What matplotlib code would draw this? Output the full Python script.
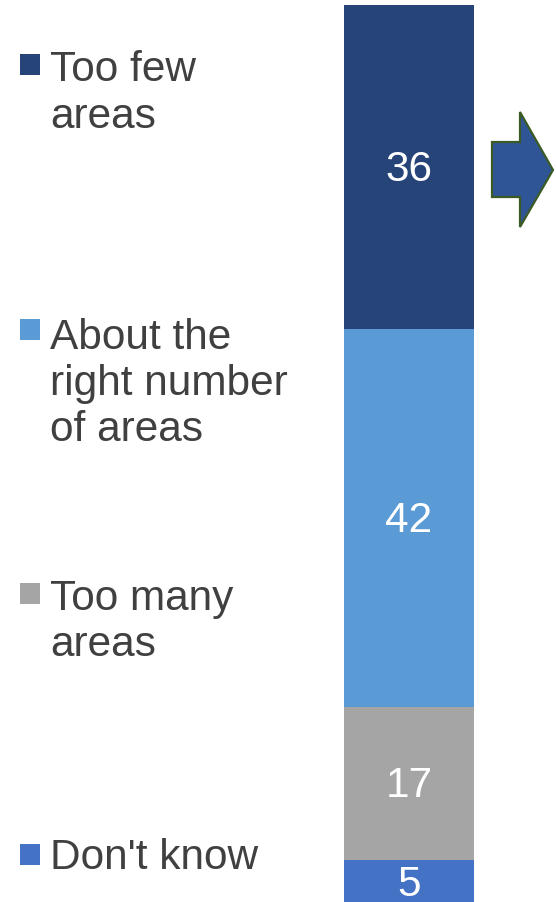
import matplotlib
matplotlib.use('Agg')
import matplotlib.pyplot as plt
import matplotlib.transforms as mtransforms
from matplotlib.patches import Rectangle, Polygon

plt.rcParams['font.family'] = ['Liberation Sans', 'DejaVu Sans']

# data, bottom to top
labels = ["Don't know", 'Too many\nareas', 'About the\nright number\nof areas', 'Too few\nareas']
values = [5, 17, 42, 36]
colors = ['#4472C4', '#A5A5A5', '#5B9BD5', '#264478']

W, H = 556, 903
fig = plt.figure(figsize=(W / 100, H / 100), dpi=100)

# the single stacked bar
ax = fig.add_axes([344 / W, -3 / H, 130 / W, 900 / H])
# nudge value labels a touch down so the digits sit in the middle
lab_tr = ax.transData + mtransforms.ScaledTranslation(0, -2 / 100, fig.dpi_scale_trans)
bottom = 0
for v, c in zip(values, colors):
    ax.bar(0, v, width=1, bottom=bottom, color=c, linewidth=0)
    ax.text(0, bottom + v / 2, str(v), ha='center', va='center',
            color='white', fontsize=30.5, transform=lab_tr)
    bottom += v
ax.set_xlim(-0.5, 0.5)
ax.set_ylim(0, 100)
ax.axis('off')

# overlay in pixel coords for legend and arrow
ov = fig.add_axes([0, 0, 1, 1], zorder=-1)
ov.set_xlim(0, W)
ov.set_ylim(H, 0)
ov.axis('off')

line_h = 48.5
first_baselines = [869, 608, 344, 79]
for lab, c, yb in zip(labels, colors, first_baselines):
    n = lab.count('\n')
    ov.add_patch(Rectangle((20, yb - 24), 20, 21, color=c, linewidth=0))
    # multi-line text with baseline alignment sits on its last line
    ov.text(50, yb + n * line_h, lab, ha='left', va='baseline', fontsize=30.5,
            color='#404040', linespacing=1.2)

arrow = [(492, 143), (520, 143), (520, 113), (553, 171),
         (520, 228), (520, 198), (492, 198)]
ov.add_patch(Polygon(arrow, closed=True, facecolor='#2F5597',
                     edgecolor='#3B5B25', linewidth=1.6))

fig.savefig('out.png', dpi=100)
